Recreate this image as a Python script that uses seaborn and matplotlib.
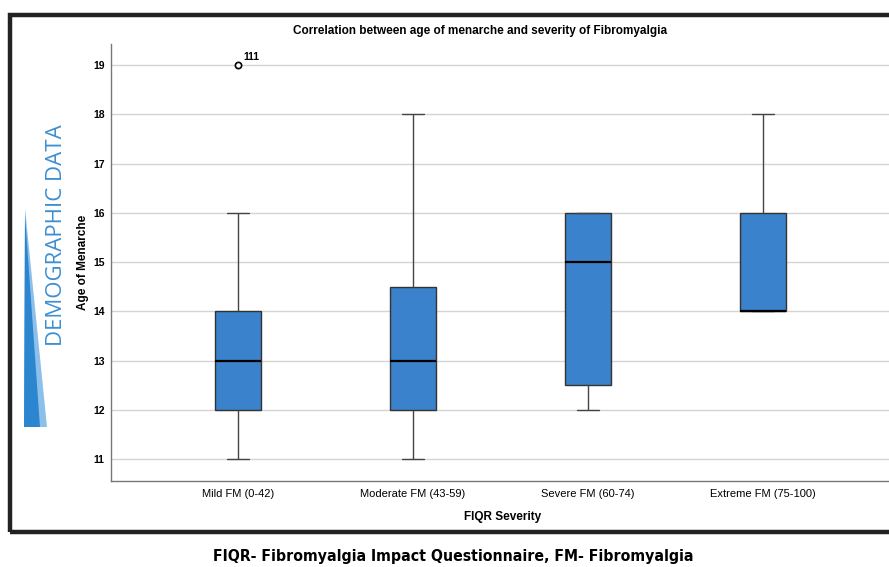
import matplotlib
matplotlib.use("Agg")
import matplotlib.pyplot as plt
import seaborn as sns
import pandas as pd
from matplotlib.patches import Polygon, Rectangle

# observations per FIQR severity group (chosen to reproduce the box summaries)
mild = [11, 12, 12, 13, 13, 14, 14, 16, 19]
moderate = [11, 12, 12, 13, 14, 15, 18]
severe = [12, 12, 13, 15, 16, 16, 16]
extreme = [14, 14, 14, 14, 14, 15, 16, 17, 18]

categories = ["Mild FM (0-42)", "Moderate FM (43-59)", "Severe FM (60-74)", "Extreme FM (75-100)"]
outlier_label = "111"

rows = []
for cat, vals in zip(categories, [mild, moderate, severe, extreme]):
    for v in vals:
        rows.append({"FIQR Severity": cat, "Age of Menarche": v})
df = pd.DataFrame(rows)

sns.set_theme(style="white")
plt.rcParams["font.family"] = ["Liberation Sans", "DejaVu Sans"]
plt.rcParams["text.color"] = "black"
plt.rcParams["axes.labelcolor"] = "black"
plt.rcParams["xtick.color"] = "black"
plt.rcParams["ytick.color"] = "black"

fig = plt.figure(figsize=(8.89, 5.67), dpi=100)
ax = fig.add_axes([111 / 889, 1 - 481 / 567, 1 - 111 / 889, (481 - 44) / 567])

sns.boxplot(data=df, x="FIQR Severity", y="Age of Menarche", order=categories,
            color="#3a82cb", width=0.26, ax=ax, saturation=1,
            linecolor="#333333", linewidth=1.0,
            medianprops={"color": "black", "linewidth": 1.6},
            flierprops={"marker": "o", "markersize": 4.5, "markerfacecolor": "white",
                        "markeredgecolor": "black", "markeredgewidth": 1.2},
            whiskerprops={"color": "#444444"}, capprops={"color": "#444444"})

ax.set_xlim(-0.726, 3.72)
ax.set_ylim(10.553, 19.43)
ax.set_yticks(range(11, 20))
ax.yaxis.grid(True, color="#d4d4d4", linewidth=1.0)
ax.set_axisbelow(True)
for s in ["top", "right"]:
    ax.spines[s].set_visible(False)
for s in ["left", "bottom"]:
    ax.spines[s].set_color("#777777")
    ax.spines[s].set_linewidth(1.0)
ax.tick_params(axis="y", length=3, color="#777777", labelsize=7.5, pad=1.5)
ax.tick_params(axis="x", length=0, labelsize=8, pad=6)
for t in ax.get_yticklabels():
    t.set_fontweight("bold")
ax.set_xlabel("FIQR Severity", fontsize=8.5, fontweight="bold")
ax.set_ylabel("Age of Menarche", fontsize=8.5, fontweight="bold")
ax.xaxis.set_label_coords((503 - 111) / 778, (481 - 517) / 437)
ax.yaxis.set_label_coords((83 - 111) / 778, 0.5)
ax.xaxis.label.set_va("center")
ax.yaxis.label.set_va("center")

ax.annotate(outlier_label, xy=(0, max(mild)), xytext=(4, 4), textcoords="offset points",
            fontsize=7.5, fontweight="bold")

fig.text(480 / 889, 1 - 31 / 567, "Correlation between age of menarche and severity of Fibromyalgia",
         ha="center", va="center", fontsize=8.5, fontweight="bold")

# frame around the chart panel
fig.patches.append(Rectangle((9.5 / 889, 1 - 532 / 567), 1.0, (532 - 15) / 567,
                             transform=fig.transFigure, fill=False,
                             edgecolor="#222222", linewidth=3.2, clip_on=False))

# side banner
fig.patches.append(Polygon([(24 / 889, 1 - 427 / 567), (47 / 889, 1 - 427 / 567), (25 / 889, 1 - 208 / 567)],
                           closed=True, transform=fig.transFigure, facecolor="#8cc0ea", edgecolor="none"))
fig.patches.append(Polygon([(24 / 889, 1 - 427 / 567), (40 / 889, 1 - 427 / 567), (25 / 889, 1 - 215 / 567)],
                           closed=True, transform=fig.transFigure, facecolor="#2b86cf", edgecolor="none"))
fig.text(57 / 889, 1 - 235 / 567, "DEMOGRAPHIC DATA", rotation=90, ha="center", va="center",
         fontsize=16, color="#3d8fd2", family=["Open Sans", "DejaVu Sans"])

fig.text(453 / 889, 1 - 557 / 567, "FIQR- Fibromyalgia Impact Questionnaire, FM- Fibromyalgia",
         ha="center", va="center", fontsize=11.3, fontweight="bold",
         family=["DejaVu Sans"], fontstretch="condensed")

fig.savefig("out.png", dpi=100)
